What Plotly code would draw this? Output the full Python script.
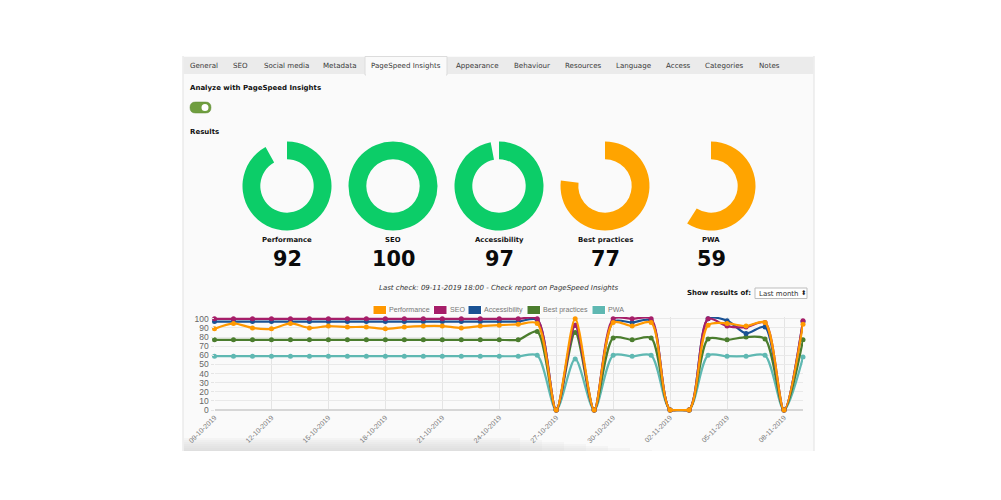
#!/usr/bin/env python3

import plotly.graph_objects as go

# the page has an 8px body margin, so the figure is 16px smaller than the window
W, H = 985, 484
PAGE_MARGIN = 8

# ────────────────────── data ─────────────────────
tabs = ["General", "SEO", "Social media", "Metadata", "PageSpeed Insights", "Appearance",
        "Behaviour", "Resources", "Language", "Access", "Categories", "Notes"]
tab_x = [203.5, 240, 286, 340, 406, 477.5, 531.5, 583, 633, 678, 724, 769]

audits = ["Performance", "SEO", "Accessibility", "Best practices", "PWA"]
scores = [92, 100, 97, 77, 59]
score_colors = ["#0ccd68", "#0ccd68", "#0ccd68", "#ffa400", "#ffa400"]
donut_x = [287, 393, 499, 605, 711]

days = ["09-10-2019", "10-10-2019", "11-10-2019", "12-10-2019", "13-10-2019", "14-10-2019",
        "15-10-2019", "16-10-2019", "17-10-2019", "18-10-2019", "19-10-2019", "20-10-2019",
        "21-10-2019", "22-10-2019", "23-10-2019", "24-10-2019", "25-10-2019", "26-10-2019",
        "27-10-2019", "28-10-2019", "29-10-2019", "30-10-2019", "31-10-2019", "01-11-2019",
        "02-11-2019", "03-11-2019", "04-11-2019", "05-11-2019", "06-11-2019", "07-11-2019",
        "08-11-2019", "09-11-2019"]
tick_days = days[::3]

performance = [89, 95, 90, 89, 95, 90, 92, 91, 91, 89, 91, 92, 92, 90, 92, 93, 94, 95,
               0, 100, 0, 96, 92, 96, 0, 0, 93, 95, 92, 96, 0, 94]
seo = [100, 100, 100, 100, 100, 100, 100, 100, 100, 100, 100, 100, 100, 100, 100, 100, 100, 100,
       0, 93, 0, 100, 100, 100, 0, 0, 100, 92, 91, 96, 0, 98]
accessibility = [97, 97, 97, 97, 97, 97, 97, 97, 97, 97, 97, 97, 97, 97, 97, 97, 97, 99,
                 0, 93, 0, 97, 96, 98, 0, 0, 100, 98, 84, 91, 0, 97]
best_practices = [77, 77, 77, 77, 77, 77, 77, 77, 77, 77, 77, 77, 77, 77, 77, 77, 77, 86,
                  0, 85, 0, 79, 77, 79, 0, 0, 78, 77, 80, 78, 0, 77]
pwa = [59, 59, 59, 59, 59, 59, 59, 59, 59, 59, 59, 59, 59, 59, 59, 59, 59, 60,
       0, 56, 0, 60, 59, 60, 0, 0, 60, 59, 59, 60, 0, 58]

series = [performance, seo, accessibility, best_practices, pwa]
series_colors = ["#ff9800", "#a61e69", "#1a5294", "#4b7d2e", "#5fb8b2"]
swatch_x = [373, 433.5, 468, 527, 592]


# ────────────────────── pixel helpers ─────────────────────────────────
def px(x):
    return (x - PAGE_MARGIN) / W


def py(y):
    return 1 - (y - PAGE_MARGIN) / H


def rect(x0, y0, x1, y1, fill, line=None, opacity=1):
    return dict(type="rect", xref="paper", yref="paper", x0=px(x0), x1=px(x1), y0=py(y0), y1=py(y1),
                fillcolor=fill, line=dict(color=line or fill, width=1 if line else 0),
                opacity=opacity, layer="below")


def label(x, y, text, size=7, color="#222", anchor="center", family="DejaVu Sans"):
    # annotations carry about 2px of padding on their anchored side
    nudge = {"left": -2, "right": 2}.get(anchor, 0)
    return dict(xref="paper", yref="paper", x=px(x + nudge), y=py(y), text=text, showarrow=False,
                xanchor=anchor, yanchor="middle", font=dict(size=size, color=color, family=family))


fig = go.Figure()

# doughnuts
for name, score, color, cx in zip(audits, scores, score_colors, donut_x):
    fig.add_trace(go.Pie(values=[score, 100 - score], hole=0.6, sort=False, direction="clockwise",
                         rotation=0, textinfo="none", hoverinfo="skip", showlegend=False,
                         marker=dict(colors=[color, "rgba(0,0,0,0)"], line=dict(width=0)),
                         domain=dict(x=[px(cx - 44.5), px(cx + 44.5)], y=[py(230.5), py(141.5)])))

# lines: first series ends up on top, like in the original
for name, vals, color in reversed(list(zip(audits, series, series_colors))):
    fig.add_trace(go.Scatter(x=days, y=vals, mode="lines", name=name, showlegend=False,
                             line=dict(color=color, width=2.2, shape="spline", smoothing=0.8)))
    fig.add_trace(go.Scatter(x=days, y=vals, mode="markers", name=name, showlegend=False,
                             cliponaxis=False, marker=dict(color=color, size=5)))

# the spline dips under the axis between consecutive zeros, keep that stretch flat
zero_runs = [0 if v == 0 else None for v in performance]
fig.add_trace(go.Scatter(x=days, y=zero_runs, mode="lines", showlegend=False, cliponaxis=False,
                         line=dict(color=series_colors[0], width=2.2)))

# ────────────────────── page furniture ────────────────────────────────
shapes = [
    rect(183, 56, 814, 451, "#fafafa"),
    rect(182.5, 56, 183.5, 451, "#e2e2e2"),
    rect(813.5, 56, 814.5, 451, "#e2e2e2"),
    rect(183.5, 57, 813.5, 74, "#ebebeb"),
    rect(365, 56.5, 447, 75, "#fafafa", "#dcdcdc"),
    rect(366, 73, 446, 76, "#fafafa"),
    dict(type="path", xref="paper", yref="paper", layer="below", fillcolor="#6f9e3f",
         line=dict(color="#5c8a33", width=0.5),
         path=f"M {px(195.5)} {py(102)} L {px(205.5)} {py(102)} "
              f"Q {px(211)} {py(102)} {px(211)} {py(107.5)} Q {px(211)} {py(113)} {px(205.5)} {py(113)} "
              f"L {px(195.5)} {py(113)} Q {px(190)} {py(113)} {px(190)} {py(107.5)} "
              f"Q {px(190)} {py(102)} {px(195.5)} {py(102)} Z"),
    dict(type="circle", xref="paper", yref="paper", layer="below", fillcolor="#fff", line_width=0,
         x0=px(201.5), x1=px(208.5), y0=py(111), y1=py(104)),
    dict(type="rect", xref="paper", yref="paper", layer="below", fillcolor="#fff",
         line=dict(color="#bdbdbd", width=1), x0=px(755), x1=px(807), y0=py(298.5), y1=py(288)),
]
# soft shadow along the bottom of the panel, fading out to the right
for i in range(7):
    shapes.append(rect(184, 438 + i * 2, 520 + i * 22, 451, "#d4d4d4", opacity=0.14))
for cx, color in zip(swatch_x, series_colors):
    shapes.append(rect(cx, 305.5, cx + 13.5, 314.5, color, "#ffffff"))

annotations = [label(x, 65.5, t, size=7.1, color="#3a3a3a") for t, x in zip(tabs, tab_x)]
annotations += [
    label(190, 88, "<b>Analyze with PageSpeed Insights</b>", color="#111", anchor="left"),
    label(190, 132, "<b>Results</b>", color="#111", anchor="left"),
    label(499, 287.5, "<i>Last check: 09-11-2019 18:00 - Check report on PageSpeed Insights</i>",
          color="#333"),
    label(751, 293, "<b>Show results of:</b>", color="#111", anchor="right"),
    label(759, 293.5, "Last month", color="#333", anchor="left"),
    label(803, 293, "⬍", size=6.5, color="#222"),
]
for name, score, cx in zip(audits, scores, donut_x):
    annotations.append(label(cx, 239.5, f"<b>{name}</b>", size=6.9, color="#111"))
    annotations.append(label(cx, 259, f"<b>{score}</b>", size=20.8, color="#0a0a0a"))
for name, cx in zip(audits, swatch_x):
    annotations.append(label(cx + 16, 310, name, size=7.1, color="#777", anchor="left",
                             family="Liberation Sans"))

fig.update_layout(
    width=W, height=H, margin=dict(l=0, r=0, t=0, b=0), paper_bgcolor="#fff", plot_bgcolor="rgba(0,0,0,0)",
    showlegend=False, shapes=shapes, annotations=annotations,
    xaxis=dict(domain=[px(214.5), px(803)], type="category", categoryorder="array", categoryarray=days,
               range=[0, 31], tickmode="array", tickvals=tick_days, ticktext=tick_days, tickangle=-45,
               tickfont=dict(size=7, color="#777", family="Liberation Sans"),
               showgrid=True, gridcolor="#e4e4e4", gridwidth=1, showline=False, zeroline=False,
               ticks="", anchor="y", automargin=False),
    yaxis=dict(domain=[py(411.2), py(317)], range=[-1.3, 102], tickmode="array",
               tickvals=[0, 10, 20, 30, 40, 50, 60, 70, 80, 90, 100],
               tickfont=dict(size=8.5, color="#666", family="Liberation Sans"),
               showgrid=True, gridcolor="#e9e9e9", gridwidth=1, zeroline=True, zerolinecolor="#d6d6d6",
               zerolinewidth=2, showline=False, ticks="outside", ticklen=3, tickcolor="#e4e4e4",
               anchor="x", automargin=False),
)

fig.write_html("out.html")
